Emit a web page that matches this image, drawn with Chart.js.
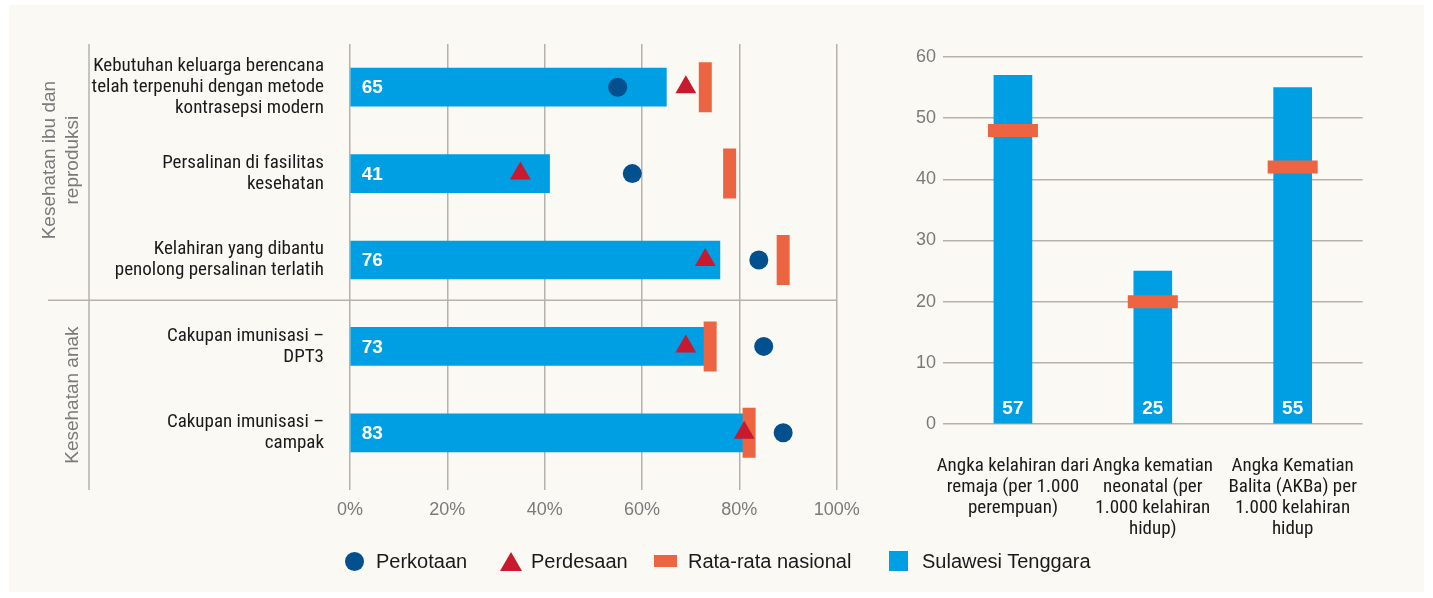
<!DOCTYPE html>
<html lang="id">
<head>
<meta charset="UTF-8"/>
<title>Sulawesi Tenggara – Kesehatan ibu dan anak</title>
<script src="https://cdn.jsdelivr.net/npm/chart.js@4"></script>
<style>
  * { box-sizing: border-box; margin: 0; padding: 0; }
  body { width: 1433px; height: 598px; background: #fff; overflow: hidden; font-family: 'Liberation Sans', Arial, sans-serif; position: relative; }
  .panel { position: absolute; left: 9px; top: 5px; width: 1415px; height: 587px; background: #fbf9f4; }
  .wrap { position: absolute; top: 0; height: 598px; }
  #leftWrap { left: 0; width: 880px; }
  #rightWrap { left: 880px; width: 553px; }
  .legend-item { position: absolute; top: 549px; height: 24px; display: flex; align-items: center; font-size: 20px; color: #1a1a1a; white-space: nowrap; }
  .sw { display: inline-block; }
  .sw.circle { width: 19px; height: 19px; border-radius: 50%; background: #02508d; margin-right: 12px; }
  .sw.triangle { width: 0; height: 0; border-left: 11px solid transparent; border-right: 11px solid transparent; border-bottom: 19px solid #c8192e; margin-right: 9px; }
  .sw.dash { width: 23px; height: 12px; background: #ec6441; margin-right: 11px; }
  .sw.square { width: 19px; height: 20px; background: #009fe3; margin-right: 14px; }
</style>
</head>
<body>
  <div class="panel"></div>
  <div class="wrap" id="leftWrap"><canvas id="leftChart"></canvas></div>
  <div class="wrap" id="rightWrap"><canvas id="rightChart"></canvas></div>
  <div id="legend"></div>

<script>
// --- data: left panel (percent) ---
const rowLabels = [
  ['Kebutuhan keluarga berencana', 'telah terpenuhi dengan metode', 'kontrasepsi modern'],
  ['Persalinan di fasilitas', 'kesehatan'],
  ['Kelahiran yang dibantu', 'penolong persalinan terlatih'],
  ['Cakupan imunisasi –', 'DPT3'],
  ['Cakupan imunisasi –', 'campak']
];
const groupLabels = [['Kesehatan ibu dan', 'reproduksi'], ['Kesehatan anak']];
const groupSizes = [3, 2];
const sultraPct = [65, 41, 76, 73, 83];
const perkotaan = [55, 58, 84, 85, 89];
const perdesaan = [69, 35, 73, 69, 81];
const nasionalPct = [73, 78, 89, 74, 82];
const pctTicks = [0, 20, 40, 60, 80, 100];

// --- data: right panel (per 1.000) ---
const rateLabels = [
  ['Angka kelahiran dari', 'remaja (per 1.000', 'perempuan)'],
  ['Angka kematian', 'neonatal (per', '1.000 kelahiran', 'hidup)'],
  ['Angka Kematian', 'Balita (AKBa) per', '1.000 kelahiran', 'hidup']
];
const sultraRate = [57, 25, 55];
const nasionalRate = [48, 20, 42];
const rateTicks = [0, 10, 20, 30, 40, 50, 60];

const legendNames = ['Perkotaan', 'Perdesaan', 'Rata-rata nasional', 'Sulawesi Tenggara'];

const BLUE = '#009fe3', NAVY = '#02508d', RED = '#c8192e', ORANGE = '#ec6441';
const GRID = '#b5b2ad', TICK = '#7a7a7a', INK = '#1a1a1a';
const NARROW = '"Roboto Condensed", "Liberation Sans", Arial, sans-serif';
const SANS = '"Liberation Sans", Arial, sans-serif';

Chart.defaults.animation = false;
Chart.defaults.plugins.legend.display = false;
Chart.defaults.plugins.tooltip.enabled = false;

// white numbers inside the blue bars
const barValues = (values, place) => ({
  id: 'barValues',
  afterDatasetsDraw(chart) {
    const ctx = chart.ctx;
    const meta = chart.getDatasetMeta(0);
    ctx.save();
    ctx.fillStyle = '#fff';
    ctx.font = 'bold 19px ' + SANS;
    meta.data.forEach((bar, i) => place(ctx, bar, values[i]));
    ctx.restore();
  }
});

// group frame + rotated group titles for left panel
const groupFrame = {
  id: 'groupFrame',
  beforeDatasetsDraw(chart) {
    const { ctx, chartArea, scales: { x, y } } = chart;
    const bottom = chartArea.bottom + 14;
    ctx.save();
    ctx.strokeStyle = GRID;
    ctx.lineWidth = 1.5;
    ctx.beginPath();
    ctx.moveTo(89, chartArea.top);
    ctx.lineTo(89, bottom);
    ctx.stroke();

    let start = 0, top = chartArea.top;
    groupSizes.forEach((n, g) => {
      const last = start + n - 1;
      let end = bottom;
      if (g < groupSizes.length - 1) {
        end = (y.getPixelForValue(last) + y.getPixelForValue(last + 1)) / 2 - 3;
        ctx.beginPath();
        ctx.moveTo(48, end);
        ctx.lineTo(x.right, end);
        ctx.stroke();
      }
      const lines = groupLabels[g];
      ctx.fillStyle = TICK;
      ctx.font = '19px ' + SANS;
      ctx.textAlign = 'center';
      ctx.textBaseline = 'middle';
      lines.forEach((t, j) => {
        ctx.save();
        ctx.translate(73 - (lines.length - 1 - j) * 23, (top + end) / 2 - (g === 0 ? 12 : 0));
        ctx.rotate(-Math.PI / 2);
        ctx.fillText(t, 0, 0);
        ctx.restore();
      });
      top = end;
      start += n;
    });
    ctx.restore();
  }
};

new Chart(document.getElementById('leftChart'), {
  type: 'bar',
  data: {
    labels: rowLabels,
    datasets: [
      { label: legendNames[3], data: sultraPct, backgroundColor: BLUE, barThickness: 38, order: 4 },
      { type: 'line', label: legendNames[2], data: nasionalPct, indexAxis: 'y', showLine: false,
        pointStyle: 'line', pointRadius: 25, pointRotation: 90, pointBorderWidth: 13,
        pointBorderColor: ORANGE, pointBackgroundColor: ORANGE, order: 3 },
      { type: 'line', label: legendNames[0], data: perkotaan, indexAxis: 'y', showLine: false,
        pointStyle: 'circle', pointRadius: 9.5, pointBorderWidth: 0,
        pointBackgroundColor: NAVY, order: 2 },
      { type: 'line', label: legendNames[1], data: perdesaan, indexAxis: 'y', showLine: false,
        pointStyle: 'triangle', pointRadius: 12, pointBorderWidth: 0,
        pointBackgroundColor: RED, order: 1 }
    ]
  },
  options: {
    indexAxis: 'y',
    responsive: true,
    maintainAspectRatio: false,
    layout: { padding: { left: 0, top: 44, right: 43.3, bottom: 62 } },
    scales: {
      x: {
        min: 0, max: 100,
        afterBuildTicks: s => { s.ticks = pctTicks.map(v => ({ value: v })); },
        afterFit: s => { s.height = 60; },
        grid: { color: GRID, lineWidth: 1.5, tickLength: 14, tickColor: GRID, drawTicks: true },
        border: { display: false },
        ticks: { callback: v => v + '%', color: TICK, padding: 9, font: { family: SANS, size: 18 } }
      },
      y: {
        afterFit: s => { s.width = 350; },
        grid: { display: false },
        border: { display: false },
        ticks: { color: INK, padding: 18, font: { family: NARROW, size: 19, lineHeight: 1.1 } }
      }
    }
  },
  plugins: [groupFrame, barValues(sultraPct, (ctx, bar, v) => {
    ctx.textAlign = 'left';
    ctx.textBaseline = 'middle';
    ctx.fillText(v, bar.base + 11, bar.y + 1);
  })]
});

new Chart(document.getElementById('rightChart'), {
  type: 'bar',
  data: {
    labels: rateLabels,
    datasets: [
      { label: legendNames[3], data: sultraRate, backgroundColor: BLUE, barThickness: 38, order: 2 },
      { type: 'line', label: legendNames[2], data: nasionalRate, showLine: false,
        pointStyle: 'line', pointRadius: 25, pointBorderWidth: 13,
        pointBorderColor: ORANGE, pointBackgroundColor: ORANGE, order: 1 }
    ]
  },
  options: {
    responsive: true,
    maintainAspectRatio: false,
    layout: { padding: { left: 0, top: 57, right: 70.4, bottom: 59 } },
    scales: {
      x: {
        afterFit: s => { s.height = 115; },
        grid: { display: false },
        border: { display: false },
        ticks: { color: INK, padding: 24, maxRotation: 0, autoSkip: false, font: { family: NARROW, size: 19, lineHeight: 1.1 } }
      },
      y: {
        min: 0, max: 60,
        afterBuildTicks: s => { s.ticks = rateTicks.map(v => ({ value: v })); },
        afterFit: s => { s.width = 63; },
        grid: { color: GRID, lineWidth: 1.5, drawTicks: false },
        border: { display: false },
        ticks: { color: TICK, padding: 7, font: { family: SANS, size: 18 } }
      }
    }
  },
  plugins: [barValues(sultraRate, (ctx, bar, v) => {
    ctx.textAlign = 'center';
    ctx.textBaseline = 'middle';
    ctx.fillText(v, bar.x, bar.base - 14);
  })]
});

// shared legend under both panels
const legendSwatches = ['circle', 'triangle', 'dash', 'square'];
const legendLeft = [345, 500, 654, 889];
const legend = document.getElementById('legend');
legendNames.forEach((name, i) => {
  const item = document.createElement('div');
  item.className = 'legend-item';
  item.style.left = legendLeft[i] + 'px';
  const sw = document.createElement('span');
  sw.className = 'sw ' + legendSwatches[i];
  const txt = document.createElement('span');
  txt.textContent = name;
  item.appendChild(sw);
  item.appendChild(txt);
  legend.appendChild(item);
});
</script>
</body>
</html>
